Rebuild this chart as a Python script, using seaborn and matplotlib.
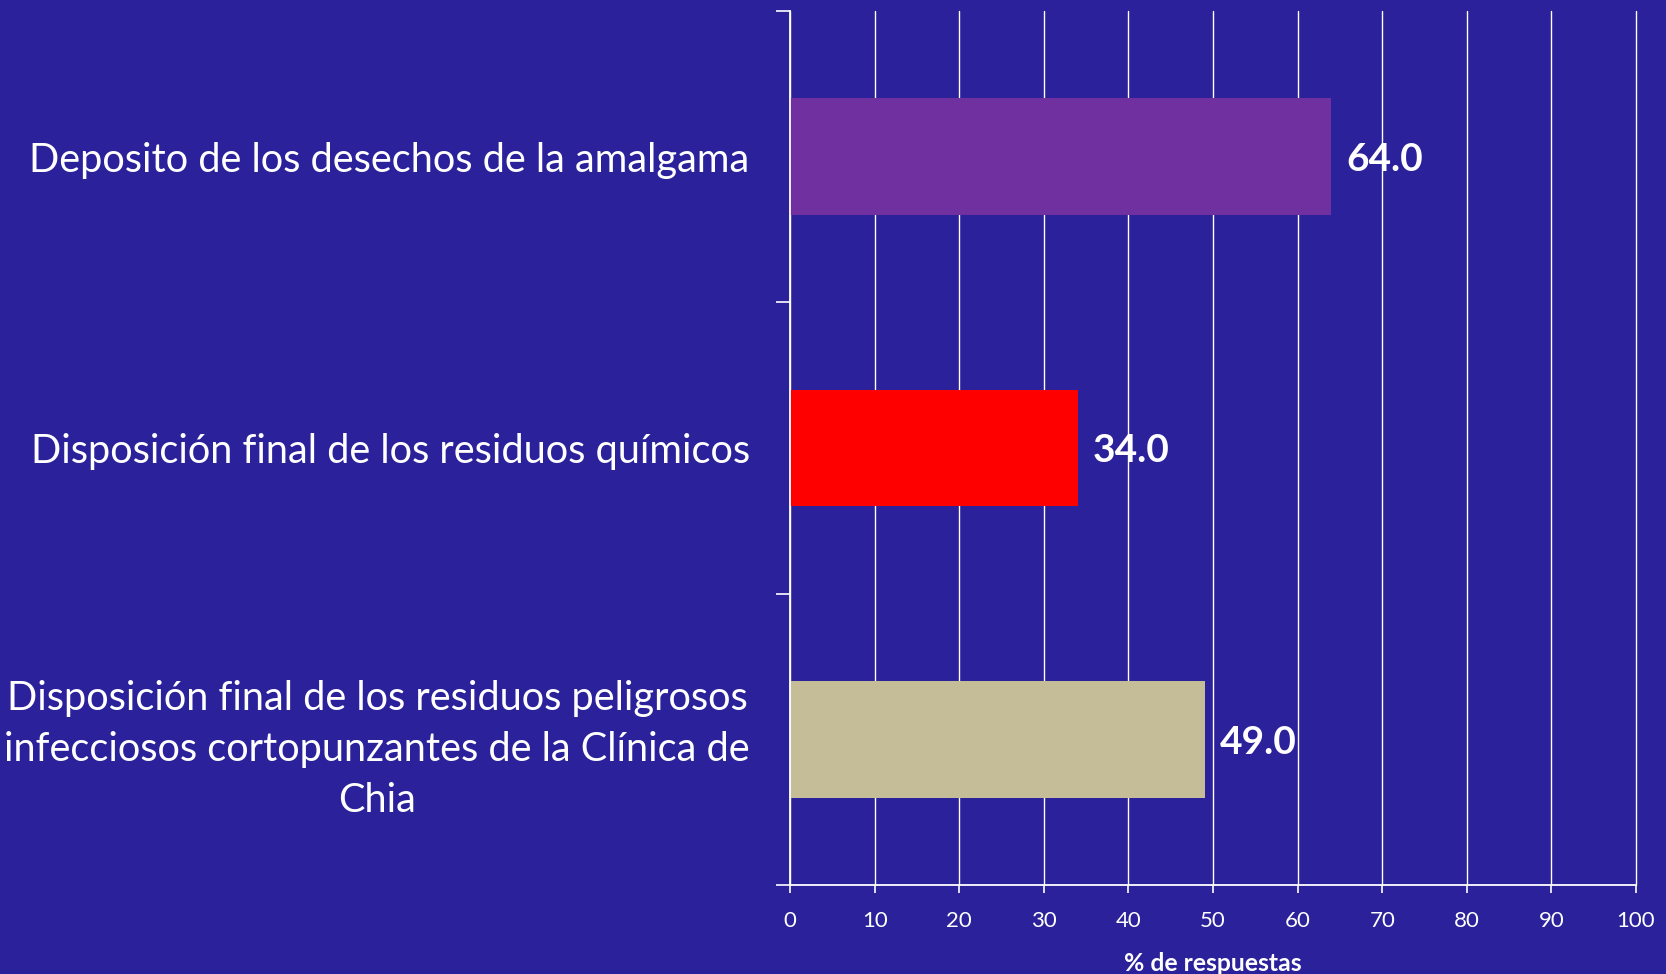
import matplotlib
matplotlib.use('Agg')
import matplotlib.pyplot as plt
import seaborn as sns

# Data
categories = [
    'Deposito de los desechos de la amalgama',
    'Disposición final de los residuos químicos',
    'Disposición final de los residuos peligrosos\ninfecciosos cortopunzantes de la Clínica de\nChia',
]
values = [64.0, 34.0, 49.0]
bar_colors = ['#7030A0', '#FF0000', '#C4BD97']
x_ticks = [0, 10, 20, 30, 40, 50, 60, 70, 80, 90, 100]

bg = '#2A219B'

sns.set_style('white')
plt.rcParams['font.family'] = ['Lato', 'DejaVu Sans']

fig = plt.figure(figsize=(16.66, 9.74), dpi=100, facecolor=bg)
ax = fig.add_axes([0.4742, 0.0914, 0.9820 - 0.4742, 0.9887 - 0.0914])
ax.set_facecolor(bg)

sns.barplot(x=values, y=categories, hue=categories, palette=bar_colors,
            width=0.4, orient='h', legend=False, saturation=1, ax=ax,
            zorder=2, linewidth=0, edgecolor='none')

ax.set_xlim(0, 100)
ax.set_ylim(2.5, -0.5)
ax.set_xticks(x_ticks)
ax.set_axisbelow(True)
ax.grid(axis='x', color='white', linewidth=1.0)
ax.grid(axis='y', visible=False)
for gl in ax.xaxis.get_gridlines():
    gl.set_clip_on(False)

# value labels
for i, v in enumerate(values):
    ax.text(v + 1.8, i, f'{v:.1f}', va='center_baseline', ha='left',
            color='white', fontsize=28, fontweight='bold', zorder=5)

# category labels centred, ticks between categories
ax.set_yticks(range(len(categories)))
ax.set_yticklabels(categories, multialignment='center', linespacing=1.47)
ax.tick_params(axis='y', which='major', length=0, pad=29, labelsize=28.6,
               labelcolor='white')
ax.set_yticks([-0.5, 0.5, 1.5, 2.5], minor=True)
ax.tick_params(axis='y', which='minor', length=10, width=1.2, color='white',
               direction='out', left=True)

ax.tick_params(axis='x', length=6, width=1.2, color='white', direction='out',
               bottom=True, labelsize=16, labelcolor='white', pad=13)

for s in ['top', 'right']:
    ax.spines[s].set_visible(False)
for s in ['left', 'bottom']:
    ax.spines[s].set_color('white')
    ax.spines[s].set_linewidth(1.3)

ax.set_xlabel('% de respuestas', color='white', fontsize=17.8,
              fontweight='bold', labelpad=15)
ax.set_ylabel('')

fig.savefig('out.png', dpi=100, facecolor=bg)
